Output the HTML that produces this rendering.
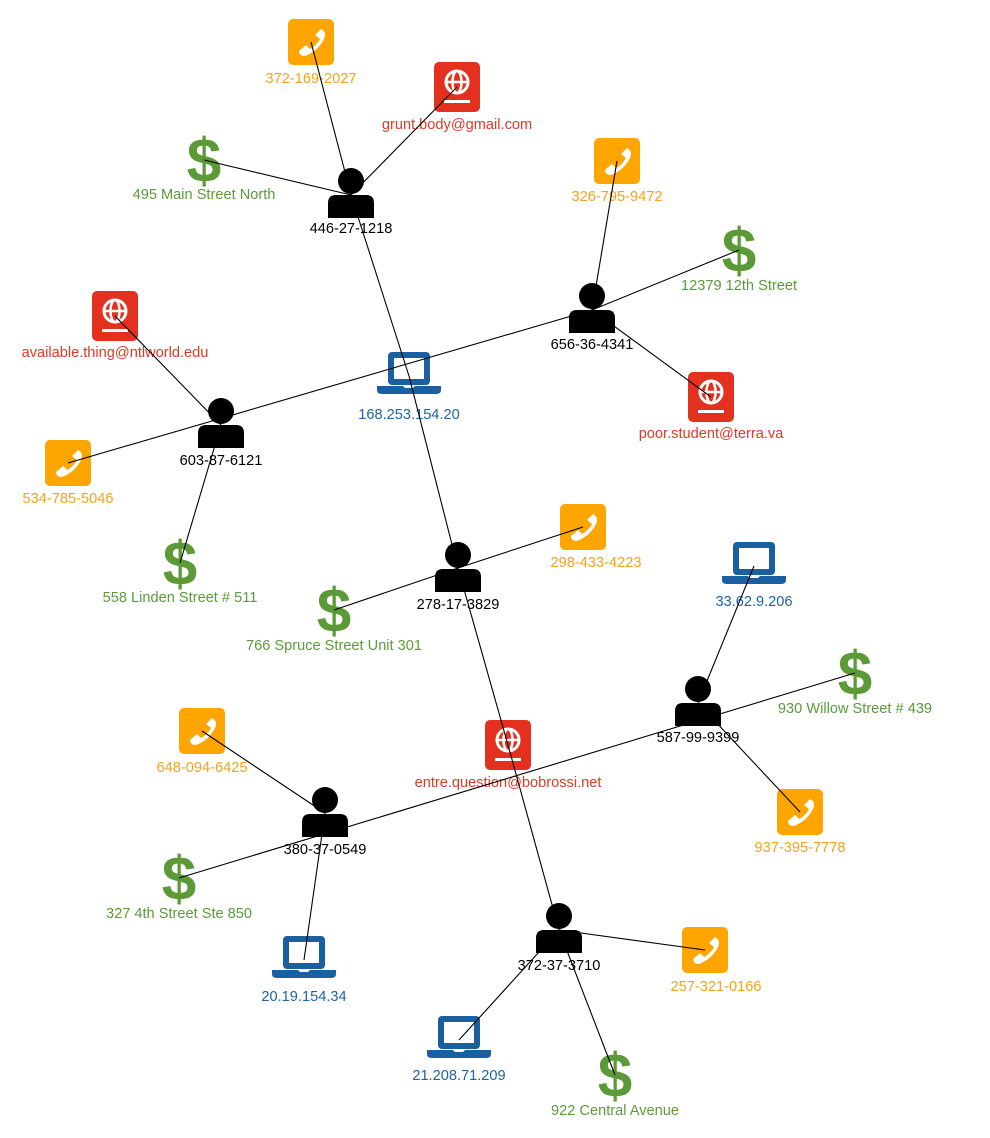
<!DOCTYPE html>
<html><head><meta charset="utf-8"><style>
html,body{margin:0;padding:0;background:#fff;}
svg{display:block;}
text{font-family:"Liberation Sans",Arial,sans-serif;font-size:14.6px;text-anchor:middle;}
.o{fill:#f6a31b}.r{fill:#e03a25}.g{fill:#5c9a3a}.b{fill:#1f63a3}.k{fill:#000}
line{stroke:#000;stroke-width:1.1}
</style></head><body>
<svg width="990" height="1138" viewBox="0 0 990 1138">
<defs>
<g id="ph"><rect x="-23" y="-23" width="46" height="46" rx="5" fill="#fea500"/>
<path d="M-12,9 L-5,3 L-1,7 Q5,4 9,-3 L4,-7 L10,-13 Q16,-10 13,-3 Q7,9 -6,14 Q-12,14 -12,9Z" fill="#fff"/></g>
<g id="em"><rect x="-23" y="-25" width="46" height="50" rx="5" fill="#e3301f"/>
<circle cx="0" cy="-5" r="11" fill="none" stroke="#fff" stroke-width="3"/>
<ellipse cx="0" cy="-5" rx="4.5" ry="11" fill="none" stroke="#fff" stroke-width="2.5"/>
<line x1="-11" y1="-5" x2="11" y2="-5" style="stroke:#fff;stroke-width:2.5"/>
<rect x="-13" y="13" width="26" height="3" fill="#fff"/></g>
<g id="lp"><rect x="-21" y="-24" width="42" height="33" rx="4" fill="#1a5fa0"/>
<rect x="-15" y="-18" width="30" height="21" fill="#fff"/>
<path d="M-32,10 H-6 L-4,12 H4 L6,10 H32 V14 Q32,18 27,18 H-27 Q-32,18 -32,14Z" fill="#1a5fa0"/></g>
<g id="pe"><circle cx="0" cy="-12" r="13" fill="#000"/>
<path d="M-23,25 V10 Q-23,2 -15,2 H15 Q23,2 23,10 V25Z" fill="#000"/></g>
<g id="dl"><text x="0" y="22" style="font-size:62px;font-weight:bold;fill:#5b9a37">$</text></g>
</defs>
<use href="#ph" x="311" y="42"/><text class="o" x="311" y="83">372-169-2027</text>
<use href="#em" x="457" y="87"/><text class="r" x="457" y="129">grunt.body@gmail.com</text>
<use href="#dl" x="204" y="160"/><text class="g" x="204" y="199">495 Main Street North</text>
<use href="#pe" x="351" y="193"/><text class="k" x="351" y="233">446-27-1218</text>
<use href="#ph" x="617" y="161"/><text class="o" x="617" y="201">326-795-9472</text>
<use href="#dl" x="739" y="250"/><text class="g" x="739" y="290">12379 12th Street</text>
<use href="#pe" x="592" y="308"/><text class="k" x="592" y="349">656-36-4341</text>
<use href="#em" x="115" y="316"/><text class="r" x="115" y="357">available.thing@ntlworld.edu</text>
<use href="#lp" x="409" y="376"/><text class="b" x="409" y="419">168.253.154.20</text>
<use href="#em" x="711" y="397"/><text class="r" x="711" y="438">poor.student@terra.va</text>
<use href="#pe" x="221" y="423"/><text class="k" x="221" y="465">603-87-6121</text>
<use href="#ph" x="68" y="463"/><text class="o" x="68" y="503">534-785-5046</text>
<use href="#dl" x="180" y="563"/><text class="g" x="180" y="602">558 Linden Street # 511</text>
<use href="#ph" x="583" y="527"/><text class="o" x="596" y="567">298-433-4223</text>
<use href="#pe" x="458" y="567"/><text class="k" x="458" y="609">278-17-3829</text>
<use href="#dl" x="334" y="610"/><text class="g" x="334" y="650">766 Spruce Street Unit 301</text>
<use href="#lp" x="754" y="566"/><text class="b" x="754" y="606">33.62.9.206</text>
<use href="#dl" x="855" y="673"/><text class="g" x="855" y="713">930 Willow Street # 439</text>
<use href="#pe" x="698" y="701"/><text class="k" x="698" y="742">587-99-9399</text>
<use href="#ph" x="202" y="731"/><text class="o" x="202" y="772">648-094-6425</text>
<use href="#em" x="508" y="745"/><text class="r" x="508" y="787">entre.question@bobrossi.net</text>
<use href="#ph" x="800" y="812"/><text class="o" x="800" y="852">937-395-7778</text>
<use href="#pe" x="325" y="812"/><text class="k" x="325" y="854">380-37-0549</text>
<use href="#dl" x="179" y="878"/><text class="g" x="179" y="918">327 4th Street Ste 850</text>
<use href="#pe" x="559" y="928"/><text class="k" x="559" y="970">372-37-3710</text>
<use href="#ph" x="705" y="950"/><text class="o" x="716" y="991">257-321-0166</text>
<use href="#lp" x="304" y="960"/><text class="b" x="304" y="1001">20.19.154.34</text>
<use href="#lp" x="459" y="1040"/><text class="b" x="459" y="1080">21.208.71.209</text>
<use href="#dl" x="615" y="1075"/><text class="g" x="615" y="1115">922 Central Avenue</text>
<g>
<line x1="351" y1="195" x2="311" y2="42"/>
<line x1="351" y1="195" x2="457" y2="87"/>
<line x1="351" y1="195" x2="204" y2="160"/>
<line x1="351" y1="195" x2="409" y2="376"/>
<line x1="409" y1="376" x2="458" y2="568"/>
<line x1="592" y1="310" x2="68" y2="463"/>
<line x1="592" y1="310" x2="617" y2="161"/>
<line x1="592" y1="310" x2="739" y2="250"/>
<line x1="592" y1="310" x2="711" y2="397"/>
<line x1="221" y1="425" x2="115" y2="316"/>
<line x1="221" y1="425" x2="180" y2="563"/>
<line x1="458" y1="568" x2="583" y2="527"/>
<line x1="458" y1="568" x2="334" y2="610"/>
<line x1="458" y1="568" x2="508" y2="745"/>
<line x1="855" y1="673" x2="179" y2="878"/>
<line x1="698" y1="703" x2="754" y2="566"/>
<line x1="698" y1="703" x2="800" y2="812"/>
<line x1="325" y1="813" x2="202" y2="731"/>
<line x1="325" y1="813" x2="304" y2="960"/>
<line x1="508" y1="745" x2="559" y2="930"/>
<line x1="559" y1="930" x2="705" y2="950"/>
<line x1="559" y1="930" x2="459" y2="1040"/>
<line x1="559" y1="930" x2="615" y2="1075"/>
</g>
</svg>
</body></html>
